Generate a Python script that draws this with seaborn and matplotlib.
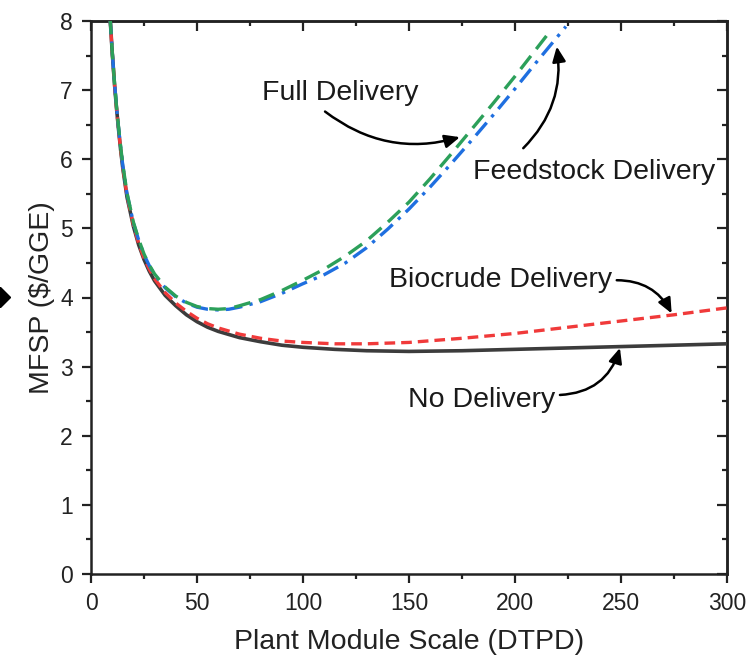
import numpy as np
import pandas as pd
import matplotlib
matplotlib.use("Agg")
import matplotlib.pyplot as plt
from matplotlib.ticker import MultipleLocator
from matplotlib.patches import FancyArrowPatch
from matplotlib.lines import Line2D
import seaborn as sns

# Plant module scale (dry tonnes per day) and minimum fuel selling price ($/GGE)
no_delivery_x = [9, 10, 11, 12, 13, 14, 15, 17, 20, 22.5, 25, 27.5, 30, 35, 40, 45, 50, 55,
                 60, 70, 80, 90, 100, 115, 130, 150, 175, 200, 225, 250, 275, 300]
no_delivery_y = [8.05, 7.55, 7.12, 6.75, 6.43, 6.13, 5.87, 5.45, 5.03, 4.76, 4.55, 4.38, 4.24,
                 4.03, 3.88, 3.75, 3.65, 3.57, 3.51, 3.42, 3.36, 3.31, 3.28, 3.25, 3.23, 3.22,
                 3.23, 3.25, 3.27, 3.29, 3.31, 3.33]

biocrude_x = [9, 10, 11, 12, 13, 14, 15, 17, 20, 22.5, 25, 27.5, 30, 35, 40, 45, 50, 55, 60,
              70, 80, 90, 100, 115, 130, 150, 175, 200, 225, 250, 275, 300]
biocrude_y = [8.05, 7.55, 7.12, 6.75, 6.43, 6.14, 5.88, 5.47, 5.05, 4.78, 4.57, 4.41, 4.27,
              4.07, 3.92, 3.80, 3.70, 3.62, 3.56, 3.47, 3.41, 3.37, 3.35, 3.33, 3.33, 3.35,
              3.41, 3.48, 3.57, 3.66, 3.75, 3.85]

feedstock_x = [9, 10, 11, 12, 13, 14, 15, 17, 20, 22.5, 25, 27.5, 30, 35, 40, 45, 50, 55, 60,
               65, 70, 80, 90, 100, 110, 120, 130, 140, 150, 160, 170, 180, 190, 200, 210, 224]
feedstock_y = [8.05, 7.56, 7.14, 6.77, 6.45, 6.17, 5.91, 5.50, 5.08, 4.83, 4.62, 4.46, 4.33,
               4.14, 4.01, 3.92, 3.86, 3.83, 3.82, 3.83, 3.86, 3.94, 4.06, 4.20, 4.33, 4.50,
               4.72, 4.99, 5.28, 5.60, 5.94, 6.29, 6.65, 7.02, 7.40, 7.92]

full_x = [9, 10, 11, 12, 13, 14, 15, 17, 20, 22.5, 25, 27.5, 30, 35, 40, 45, 50, 55, 60, 65,
          70, 80, 90, 100, 110, 120, 130, 140, 150, 160, 170, 180, 190, 200, 216]
full_y = [8.05, 7.56, 7.14, 6.77, 6.46, 6.18, 5.92, 5.51, 5.09, 4.84, 4.63, 4.47, 4.34, 4.15,
          4.02, 3.93, 3.87, 3.84, 3.83, 3.84, 3.88, 3.97, 4.10, 4.25, 4.41, 4.60, 4.82, 5.09,
          5.38, 5.72, 6.08, 6.45, 6.82, 7.20, 7.83]

x_ticks = [0, 50, 100, 150, 200, 250, 300]
y_ticks = [0, 1, 2, 3, 4, 5, 6, 7, 8]

sns.set_style("ticks")
plt.rcParams["font.family"] = ["Liberation Sans", "DejaVu Sans"]

fig = plt.figure(figsize=(7.51, 6.60), dpi=100)
ax = fig.add_axes([91 / 751, 86 / 660, 636 / 751, 553 / 660])

lw = 2.4
sns.lineplot(x=no_delivery_x, y=no_delivery_y, ax=ax, color="#3c3c3c", linewidth=lw + 0.2,
             linestyle="-", zorder=3)
sns.lineplot(x=biocrude_x, y=biocrude_y, ax=ax, color="#f03a3a", linewidth=lw,
             linestyle=(0, (3.2, 1.8)), zorder=4)
sns.lineplot(x=feedstock_x, y=feedstock_y, ax=ax, color="#1f6fe0", linewidth=lw,
             linestyle=(0, (5.0, 2.2, 1.0, 2.2)), zorder=5)
sns.lineplot(x=full_x, y=full_y, ax=ax, color="#2ca05a", linewidth=lw,
             linestyle=(0, (5.0, 2.6)), zorder=6)

ax.set_xlim(0, 300)
ax.set_ylim(0, 8)
ax.set_xticks(x_ticks)
ax.set_yticks(y_ticks)
ax.xaxis.set_minor_locator(MultipleLocator(25))
ax.yaxis.set_minor_locator(MultipleLocator(0.5))

for side in ax.spines.values():
    side.set_linewidth(1.8)
    side.set_color("#222222")

tick_color = "#222222"
ax.tick_params(which="major", direction="out", length=6.5, width=1.6, color=tick_color,
               labelsize=16.5, labelcolor="#222222", pad=6.5)
ax.tick_params(which="minor", direction="out", length=3.3, width=1.6, color=tick_color)

# Mirrored inward ticks on the top and right edges
top = ax.secondary_xaxis("top")
top.set_xticks(x_ticks)
top.xaxis.set_minor_locator(MultipleLocator(25))
top.tick_params(which="major", direction="in", length=7.5, width=1.6, color=tick_color,
                labeltop=False)
top.tick_params(which="minor", direction="in", length=3.5, width=1.6, color=tick_color)
top.spines["top"].set_linewidth(1.8)

right = ax.secondary_yaxis("right")
right.set_yticks(y_ticks)
right.yaxis.set_minor_locator(MultipleLocator(0.5))
right.tick_params(which="major", direction="in", length=7.5, width=1.6, color=tick_color,
                  labelright=False)
right.tick_params(which="minor", direction="in", length=3.5, width=1.6, color=tick_color)
right.spines["right"].set_linewidth(1.8)

ax.set_xlabel("Plant Module Scale (DTPD)", fontsize=20.5, color="#222222", labelpad=10)
ax.set_ylabel("MFSP ($/GGE)", fontsize=20.5, color="#222222", labelpad=4)

# Curve labels with curved pointer arrows
label_size = 20.5
ax.text(117.5, 6.96, "Full Delivery", fontsize=label_size, ha="center", va="center",
        color="#1a1a1a")
ax.text(237.5, 5.82, "Feedstock Delivery", fontsize=label_size, ha="center", va="center",
        color="#1a1a1a")
ax.text(193.3, 4.25, "Biocrude Delivery", fontsize=label_size, ha="center", va="center",
        color="#1a1a1a")
ax.text(184.2, 2.52, "No Delivery", fontsize=label_size, ha="center", va="center",
        color="#1a1a1a")

arrows = [
    ((110.4, 6.69), (174.0, 6.32), 0.25),
    ((203.9, 6.16), (219.7, 7.63), 0.25),
    ((248.0, 4.25), (273.9, 3.77), -0.3),
    ((221.2, 2.59), (249.5, 3.27), 0.35),
]
for tail, head, rad in arrows:
    ax.add_patch(FancyArrowPatch(tail, head, connectionstyle=f"arc3,rad={rad}",
                                 arrowstyle="-|>,head_length=9,head_width=4",
                                 mutation_scale=1, linewidth=1.8, color="black",
                                 shrinkA=0, shrinkB=0, zorder=7))

# Small diamond marker at the left edge of the figure
fig.add_artist(Line2D([0.0], [1 - 297 / 660], marker="D", markersize=10.5,
                      color="black", transform=fig.transFigure, clip_on=False))

fig.savefig("out.png", dpi=100)
